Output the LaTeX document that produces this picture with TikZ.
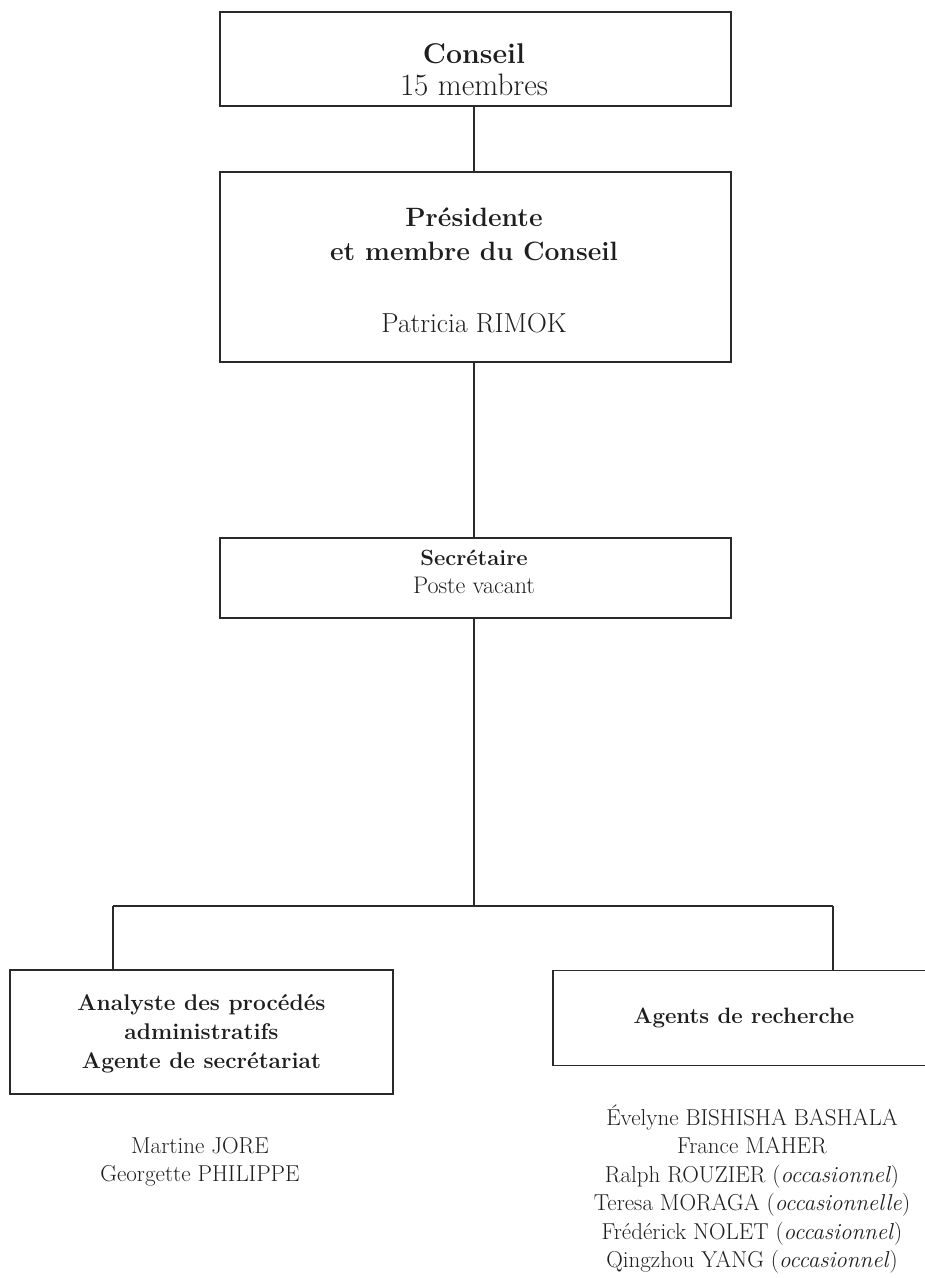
\documentclass[tikz,border=0pt]{standalone}
\usepackage{fontspec}
\definecolor{ink}{HTML}{1E1E1E}
\definecolor{rule}{HTML}{2A2A2A}
\tikzset{
  box/.style={draw=rule, line width=1.3pt, inner sep=0pt, outer sep=0pt, rectangle},
  wire/.style={draw=rule, line width=1.3pt},
  txt/.style={anchor=base, inner sep=0pt, text=ink},
}
\newcommand{\fsz}[1]{\fontsize{#1pt}{#1pt}\selectfont}
\begin{document}
\begin{tikzpicture}[x=1pt,y=-1pt]
\useasboundingbox (0,0) rectangle (925,1278);
\clip (0,0) rectangle (925,1278);
% boxes
\node[box, minimum width=511pt, minimum height=94pt] (conseil) at (475.5,59) {};
\node[box, minimum width=511pt, minimum height=190pt] (pres) at (475.5,267) {};
\node[box, minimum width=511pt, minimum height=80pt] (sec) at (475.5,578) {};
\node[box, minimum width=383pt, minimum height=124pt] (left) at (201.5,1032) {};
\node[box, minimum width=390pt, minimum height=95pt] (right) at (748,1018) {};
% texts
\node[txt] (t1) at (474,63) {\fsz{28.5}\bfseries Conseil};
\node[txt] (t2) at (474,95) {\fsz{31}15 membres};
\node[txt] (t3) at (474,226) {\fsz{26.5}\bfseries Présidente};
\node[txt] (t4) at (474,260) {\fsz{26.5}\bfseries et membre du Conseil};
\node[txt] (t5) at (474,332) {\fsz{27.5}Patricia RIMOK};
\node[txt] (t6) at (474,565) {\fsz{22}\bfseries Secrétaire};
\node[txt] (t7) at (474,593) {\fsz{24}Poste vacant};
\node[txt] (t8) at (201.5,1010) {\fsz{22.7}\bfseries Analyste des procédés};
\node[txt] (t9) at (201.5,1039) {\fsz{22.7}\bfseries administratifs};
\node[txt] (t10) at (201.5,1068) {\fsz{22.7}\bfseries Agente de secrétariat};
\node[txt] (t11) at (744,1023) {\fsz{22.2}\bfseries Agents de recherche};
\node[txt] (n1) at (200,1153) {\fsz{23}Martine JORE};
\node[txt] (n2) at (200,1181) {\fsz{23}Georgette PHILIPPE};
\node[txt] (r1) at (752,1125) {\fsz{23}Évelyne BISHISHA BASHALA};
\node[txt] (r2) at (752,1153) {\fsz{23}France MAHER};
\node[txt] (r3) at (752,1182) {\fsz{23}Ralph ROUZIER (\textit{occasionnel})};
\node[txt] (r4) at (752,1210) {\fsz{23}Teresa MORAGA (\textit{occasionnelle})};
\node[txt] (r5) at (752,1239) {\fsz{23}Frédérick NOLET (\textit{occasionnel})};
\node[txt] (r6) at (752,1267) {\fsz{23}Qingzhou YANG (\textit{occasionnel})};
% connectors
\coordinate (j) at (474,906);
\coordinate (jl) at (113,906);
\coordinate (jr) at (833,906);
\draw[wire] (conseil.south -| j) -- (pres.north -| j);
\draw[wire] (pres.south -| j) -- (sec.north -| j);
\draw[wire] (sec.south -| j) -- (j);
\draw[wire] (jl) -- (jr);
\draw[wire] (jl) -- (jl |- left.north);
\draw[wire] (jr) -- (jr |- right.north);
\end{tikzpicture}
\end{document}
